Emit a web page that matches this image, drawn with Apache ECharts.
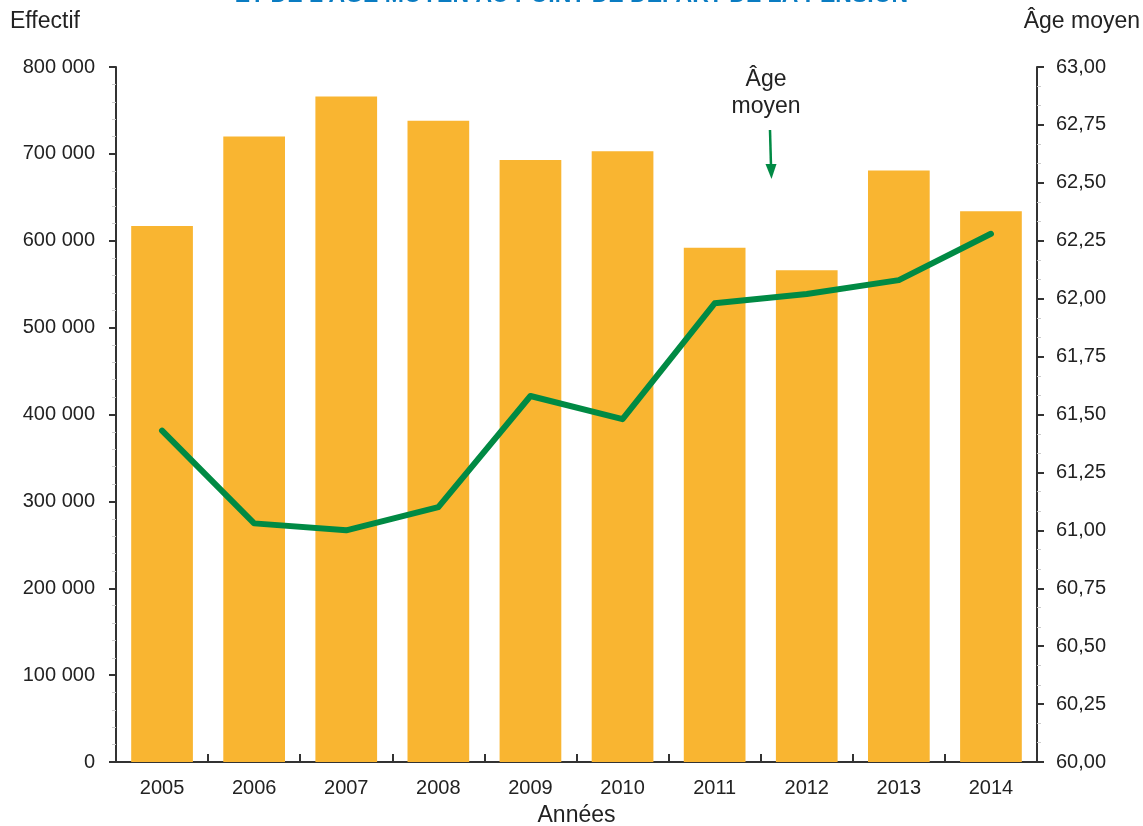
<!DOCTYPE html>
<html>
<head>
<meta charset="utf-8">
<script src="https://cdn.jsdelivr.net/npm/echarts@6/dist/echarts.min.js"></script>
<style>
html,body{margin:0;padding:0;background:#fff;}
#c{width:1143px;height:826px;}
</style>
</head>
<body>
<div id="c"></div>
<script>
const years = ['2005','2006','2007','2008','2009','2010','2011','2012','2013','2014'];
const effectif = [617000, 720000, 766000, 738000, 693000, 703000, 592000, 566000, 681000, 634000];
const ageMoyen = [61.43, 61.03, 61.00, 61.10, 61.58, 61.48, 61.98, 62.02, 62.08, 62.28];
const leftTicks = [0, 100000, 200000, 300000, 400000, 500000, 600000, 700000, 800000];
const rightTicks = [60, 60.25, 60.5, 60.75, 61, 61.25, 61.5, 61.75, 62, 62.25, 62.5, 62.75, 63];

const FONT = 'Liberation Sans, Arial, sans-serif';
const chart = echarts.init(document.getElementById('c'), null, {renderer: 'canvas'});

function fmtLeft(v){ return v === 0 ? '0' : String(v).replace(/\B(?=(\d{3})+(?!\d))/g, ' '); }
function fmtRight(v){ return v.toFixed(2).replace('.', ','); }

chart.setOption({
  animation: false,
  title: {
    text: "ET DE L'ÂGE MOYEN AU POINT DE DÉPART DE LA PENSION",
    left: 'center',
    top: -21,
    textStyle: {fontFamily: FONT, fontSize: 23, fontWeight: 'bold', color: '#0a7cc2'}
  },
  grid: {left: 116, right: 106, top: 67, bottom: 64, containLabel: false, outerBoundsMode: 'none'},
  xAxis: {
    type: 'category',
    data: years,
    name: 'Années',
    nameLocation: 'middle',
    nameGap: 42,
    nameTextStyle: {fontFamily: FONT, fontSize: 23, color: '#222'},
    axisLine: {lineStyle: {color: '#333', width: 2}},
    axisTick: {show: true, inside: true, length: 8, lineStyle: {color: '#333', width: 2}},
    axisLabel: {fontFamily: FONT, fontSize: 20, color: '#222', margin: 16}
  },
  yAxis: [
    {
      type: 'value', min: leftTicks[0], max: leftTicks[leftTicks.length-1], interval: 100000,
      position: 'left',
      axisLine: {show: true, lineStyle: {color: '#333', width: 2}},
      axisTick: {show: true, length: 7, lineStyle: {color: '#333', width: 2}},
      minorTick: {show: true, splitNumber: 5, length: 4, lineStyle: {color: '#ccc', width: 1}},
      splitLine: {show: false},
      axisLabel: {fontFamily: FONT, fontSize: 20, color: '#222', margin: 21, formatter: fmtLeft}
    },
    {
      type: 'value', min: rightTicks[0], max: rightTicks[rightTicks.length-1], interval: 0.25,
      position: 'right',
      axisLine: {show: true, lineStyle: {color: '#333', width: 2}},
      axisTick: {show: true, length: 7, lineStyle: {color: '#333', width: 2}},
      minorTick: {show: true, splitNumber: 3, length: 4, lineStyle: {color: '#ccc', width: 1}},
      splitLine: {show: false},
      axisLabel: {fontFamily: FONT, fontSize: 20, color: '#222', margin: 19, formatter: fmtRight}
    }
  ],
  series: [
    {
      type: 'bar', yAxisIndex: 0, data: effectif,
      barWidth: '67%',
      itemStyle: {color: '#f9b531'}
    },
    {
      type: 'line', yAxisIndex: 1, data: ageMoyen,
      symbol: 'none',
      lineStyle: {color: '#008a44', width: 6, cap: 'round', join: 'round'},
      z: 5
    }
  ],
  graphic: [
    {type: 'text', x: 10, y: 10, style: {text: 'Effectif', font: '23px ' + FONT, fill: '#222'}},
    {type: 'text', x: 1140, y: 10, style: {text: 'Âge moyen', font: '23px ' + FONT, fill: '#222', textAlign: 'right'}},
    {type: 'text', x: 766, y: 66, style: {text: 'Âge\nmoyen', font: '23px ' + FONT, fill: '#222', textAlign: 'center', lineHeight: 27}},
    {type: 'line', shape: {x1: 770, y1: 130, x2: 771, y2: 166}, style: {stroke: '#008a44', lineWidth: 2.5}},
    {type: 'polygon', shape: {points: [[765.5, 164], [776.5, 164], [771.5, 179]]}, style: {fill: '#008a44'}}
  ]
});
</script>
</body>
</html>
